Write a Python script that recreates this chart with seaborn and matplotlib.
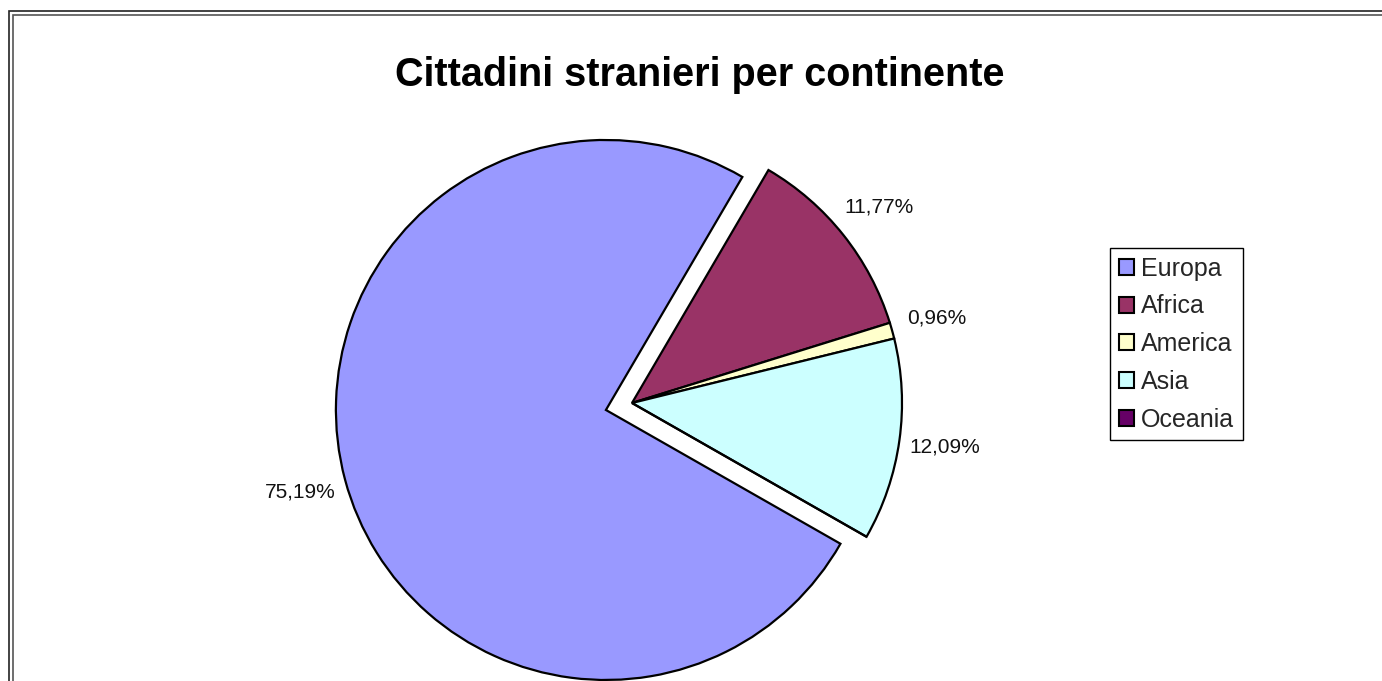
import numpy as np
import matplotlib
matplotlib.use("Agg")
from matplotlib import pyplot as plt
from matplotlib.patches import Patch, Rectangle
import seaborn as sns

# data
continents = ["Europa", "Africa", "America", "Asia", "Oceania"]
shares = [75.19, 11.77, 0.96, 12.09, 0.0]
pct_labels = ["75,19%", "11,77%", "0,96%", "12,09%", ""]
colors = ["#9999FF", "#993366", "#FFFFCC", "#CCFFFF", "#660066"]
title = "Cittadini stranieri per continente"

sns.set_style("white")
plt.rcParams['font.family'] = ['Liberation Sans', 'DejaVu Sans']

W, H = 1382, 681
fig = plt.figure(figsize=(W / 100, H / 100), dpi=100)
fig.patch.set_facecolor("white")

# pie centre at (632, 403) px, radius 270 px -> one data unit = 270 px
cx, cy, R = 632, 403, 270
ax = fig.add_axes([0, 0, 1, 1])

explode = [0.1, 0, 0, 0, 0]
wedges, texts = ax.pie(shares, colors=colors, explode=explode, startangle=-29.7,
                       counterclock=False, radius=1, labels=pct_labels, labeldistance=1.17,
                       wedgeprops=dict(edgecolor="black", linewidth=1.6),
                       textprops=dict(fontsize=15, color="#111111"))
for t in texts:
    t.set_ha("center")
    t.set_va("center")

ax.set_aspect("auto")
ax.set_xlim(-cx / R, (W - cx) / R)
ax.set_ylim(-(H - cy) / R, cy / R)
ax.axis("off")

fig.text(0.5065, 1 - 75 / H, title, ha="center", va="center",
         fontsize=28.5, fontweight="bold", color="black")

handles = [Patch(facecolor=c, edgecolor="black", linewidth=1.5) for c in colors]
leg = fig.legend(handles, continents, loc="upper left",
                 bbox_to_anchor=(1110 / W, 1 - 248 / H), fontsize=18,
                 frameon=True, fancybox=False, edgecolor="black", framealpha=1,
                 handlelength=0.6, handleheight=0.6, handletextpad=0.3,
                 labelspacing=0.55, borderpad=0.35, borderaxespad=0)
leg.get_frame().set_linewidth(1.0)

# double border around the chart area
fig.patches.append(Rectangle((8.5 / W, -0.1), 1.2, 1.1 - 10.5 / H, transform=fig.transFigure,
                             fill=False, edgecolor="#222222", linewidth=1.2))
fig.patches.append(Rectangle((12.5 / W, -0.1), 1.2, 1.1 - 14.5 / H, transform=fig.transFigure,
                             fill=False, edgecolor="#555555", linewidth=1.2))

fig.savefig("out.png", dpi=100)
